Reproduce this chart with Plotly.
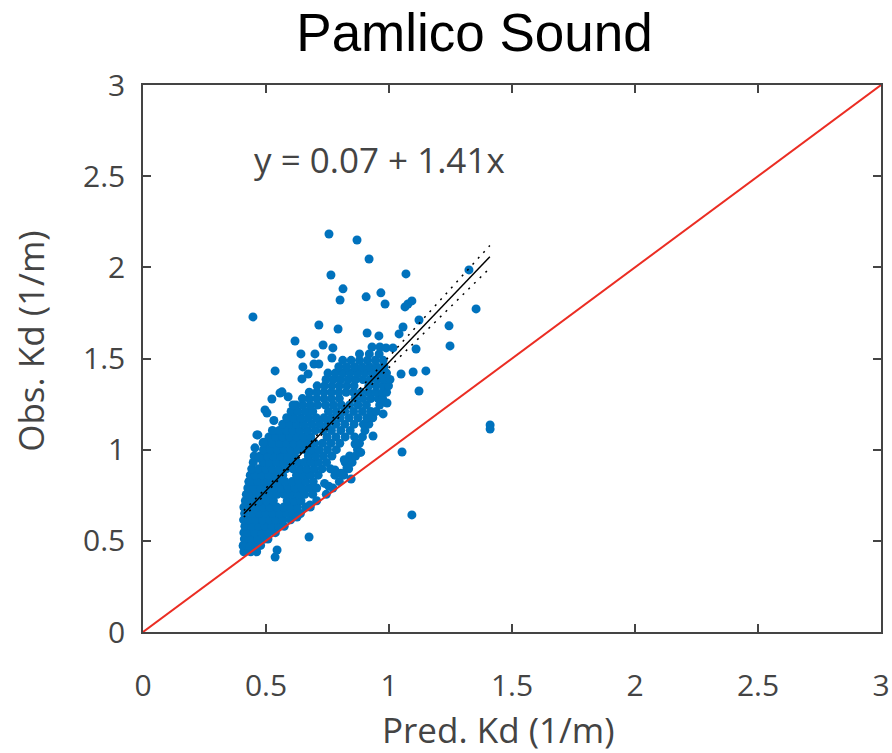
import plotly.graph_objects as go

# ---------------- data ----------------
title_text = "Pamlico Sound"
x_label = "Pred. Kd (1/m)"
y_label = "Obs. Kd (1/m)"
tick_vals = [0, 0.5, 1, 1.5, 2, 2.5, 3]
tick_text = ["0", "0.5", "1", "1.5", "2", "2.5", "3"]

# dense core of the cloud, read row by row (obs value per row, pred values in row)
core_obs = [0.44, 0.475, 0.51, 0.545, 0.58, 0.615, 0.65, 0.685, 0.72, 0.755, 0.79,
            0.825, 0.86, 0.895, 0.93, 0.965, 1.00, 1.035, 1.07, 1.105, 1.14, 1.175,
            1.21, 1.245, 1.28, 1.315, 1.35, 1.385, 1.42, 1.455, 1.49, 1.525]
core_pred = [
    [0.410, 0.438, 0.462],
    [0.408, 0.424, 0.452, 0.478],
    [0.412, 0.440, 0.466, 0.494, 0.508],
    [0.410, 0.426, 0.454, 0.482, 0.510, 0.538],
    [0.414, 0.442, 0.470, 0.497, 0.524, 0.552, 0.574],
    [0.409, 0.430, 0.458, 0.486, 0.514, 0.541, 0.569, 0.600],
    [0.413, 0.444, 0.472, 0.500, 0.527, 0.555, 0.583, 0.611, 0.640],
    [0.410, 0.432, 0.460, 0.488, 0.516, 0.544, 0.572, 0.600, 0.628, 0.662, 0.680],
    [0.416, 0.446, 0.474, 0.502, 0.530, 0.586, 0.614, 0.642, 0.706],
    [0.420, 0.434, 0.462, 0.490, 0.518, 0.546, 0.574, 0.602, 0.630, 0.658, 0.690, 0.745],
    [0.426, 0.450, 0.478, 0.506, 0.534, 0.562, 0.590, 0.618, 0.646, 0.676, 0.706, 0.772],
    [0.430, 0.440, 0.466, 0.494, 0.522, 0.550, 0.578, 0.606, 0.634, 0.662, 0.692, 0.798],
    [0.436, 0.456, 0.484, 0.512, 0.540, 0.568, 0.624, 0.652, 0.680, 0.712, 0.780, 0.816],
    [0.442, 0.470, 0.498, 0.526, 0.554, 0.582, 0.610, 0.638, 0.666, 0.696, 0.728, 0.762, 0.836],
    [0.448, 0.488, 0.516, 0.544, 0.572, 0.600, 0.628, 0.656, 0.684, 0.714, 0.746, 0.822, 0.850],
    [0.452, 0.476, 0.504, 0.532, 0.560, 0.588, 0.616, 0.672, 0.702, 0.734, 0.768, 0.840, 0.864],
    [0.490, 0.518, 0.546, 0.574, 0.602, 0.630, 0.658, 0.686, 0.716, 0.750, 0.786, 0.872],
    [0.500, 0.528, 0.556, 0.584, 0.612, 0.640, 0.668, 0.698, 0.730, 0.764, 0.800, 0.880],
    [0.512, 0.540, 0.568, 0.596, 0.624, 0.652, 0.682, 0.748, 0.784, 0.822, 0.860, 0.892],
    [0.526, 0.554, 0.582, 0.610, 0.638, 0.668, 0.700, 0.732, 0.766, 0.804, 0.842, 0.902],
    [0.568, 0.596, 0.624, 0.654, 0.686, 0.718, 0.750, 0.784, 0.820, 0.858, 0.896, 0.918],
    [0.584, 0.612, 0.642, 0.672, 0.704, 0.736, 0.768, 0.802, 0.838, 0.874, 0.910, 0.934],
    [0.602, 0.630, 0.660, 0.690, 0.754, 0.786, 0.820, 0.856, 0.892, 0.926, 0.948],
    [0.622, 0.650, 0.680, 0.710, 0.742, 0.774, 0.806, 0.840, 0.874, 0.908, 0.962],
    [0.648, 0.676, 0.706, 0.736, 0.766, 0.798, 0.862, 0.894, 0.926, 0.956, 0.974],
    [0.676, 0.706, 0.736, 0.766, 0.796, 0.826, 0.856, 0.886, 0.916, 0.946, 0.974, 0.990],
    [0.708, 0.738, 0.768, 0.798, 0.828, 0.858, 0.918, 0.948, 0.976, 0.998],
    [0.744, 0.774, 0.804, 0.834, 0.864, 0.894, 0.924, 0.954, 0.982, 1.004],
    [0.752, 0.782, 0.812, 0.842, 0.872, 0.902, 0.932, 0.962, 0.990],
    [0.796, 0.828, 0.860, 0.890, 0.920, 0.950, 0.980],
    [0.812, 0.846, 0.880, 0.912, 0.944, 0.976],
    [0.880, 0.920, 0.960],
]

# scattered points outside the core
sparse_pred = [0.756, 0.870, 0.919, 0.764, 1.069, 0.813, 0.801, 0.907, 0.967, 0.984,
               0.447, 1.065, 1.077, 1.093, 1.325, 1.354, 1.122, 1.244, 0.715, 0.793,
               0.911, 0.959, 1.057, 1.041, 1.248, 0.618, 0.732, 0.772, 0.642, 0.699,
               0.768, 0.931, 0.963, 0.988, 1.016, 1.110, 1.150, 1.098, 1.049, 1.122,
               0.992, 0.976, 0.537, 0.565, 0.524, 0.504, 0.610, 0.650, 0.671, 0.695,
               0.715, 0.935, 1.053, 1.093, 1.411, 1.411, 0.862, 0.829, 0.846, 0.780,
               0.679, 0.675, 0.626, 0.545, 0.537, 0.407, 0.435, 0.467, 0.490,
               0.496, 0.557, 0.646, 0.463, 0.488, 0.455, 0.472, 0.532, 0.590, 0.805,
               0.755, 0.738, 0.818, 0.885]
sparse_obs = [2.183, 2.150, 2.046, 1.958, 1.964, 1.882, 1.821, 1.838, 1.860, 1.799,
              1.728, 1.783, 1.799, 1.816, 1.986, 1.772, 1.711, 1.679, 1.684, 1.662,
              1.640, 1.624, 1.673, 1.635, 1.569, 1.596, 1.574, 1.558, 1.525, 1.525,
              1.503, 1.563, 1.563, 1.558, 1.558, 1.552, 1.432, 1.426, 1.415, 1.322,
              1.256, 1.196, 1.432, 1.317, 1.278, 1.201, 1.245, 1.454, 1.415, 1.470,
              1.470, 1.075, 0.987, 0.642, 1.135, 1.113, 1.031, 0.900, 0.839, 0.889,
              0.697, 0.521, 0.631, 0.450, 0.411, 0.472, 0.466, 1.081, 1.040,
              1.218, 1.311, 1.388, 1.081, 1.037, 1.010, 0.955, 1.160, 1.290, 0.870,
              0.800, 0.815, 0.945, 0.985]

# regression y = a + b x and its confidence band half-widths
fit_a = 0.07
fit_b = 1.41
fit_x = [0.41, 0.65, 0.90, 1.15, 1.41]
ci_half = [0.018, 0.008, 0.022, 0.042, 0.062]
one_to_one = [0, 3]

# ---------------- build ----------------
pred = []
obs = []
for yv, row in zip(core_obs, core_pred):
    for xv in row:
        pred.append(xv)
        obs.append(yv)
pred += sparse_pred
obs += sparse_obs

fit_y = [fit_a + fit_b * x for x in fit_x]
ci_up = [y + h for y, h in zip(fit_y, ci_half)]
ci_lo = [y - h for y, h in zip(fit_y, ci_half)]

GRAY = "#444444"
FONT = "Open Sans"

fig = go.Figure()
fig.add_trace(go.Scatter(x=pred, y=obs, mode="markers",
                         marker=dict(color="#0072BD", size=9, line=dict(width=0)),
                         showlegend=False))
fig.add_trace(go.Scatter(x=one_to_one, y=one_to_one, mode="lines",
                         line=dict(color="rgb(235,45,35)", width=2), showlegend=False))
fig.add_trace(go.Scatter(x=fit_x, y=fit_y, mode="lines",
                         line=dict(color="black", width=1.5), showlegend=False))
for band in (ci_up, ci_lo):
    fig.add_trace(go.Scatter(x=fit_x, y=band, mode="lines",
                             line=dict(color="black", width=1.5, dash="2px,6px"),
                             showlegend=False))

axis_common = dict(range=[0, 3], tickvals=tick_vals, ticktext=tick_text,
                   ticks="inside", ticklen=8, tickwidth=1.5, tickcolor=GRAY,
                   showline=True, linecolor=GRAY, linewidth=1.5, mirror="allticks",
                   showgrid=False, zeroline=False, automargin=False,
                   tickfont=dict(family=FONT, size=30, color=GRAY))
fig.update_xaxes(**axis_common, ticklabelstandoff=26)
fig.update_yaxes(**axis_common, ticklabelstandoff=10)

fig.update_layout(
    width=892, height=753,
    margin=dict(l=143, r=11, t=85, b=121, autoexpand=False),
    paper_bgcolor="white", plot_bgcolor="white",
    title=dict(text=title_text, x=0.532, xanchor="center", y=0.957, yanchor="middle",
               xref="container", yref="container",
               font=dict(family="Liberation Sans, Arial", size=53, color="black")),
    annotations=[
        dict(text="y = 0.07 + 1.41x", x=0.445, y=2.59, xref="x", yref="y",
             xanchor="left", yanchor="middle", showarrow=False,
             font=dict(family=FONT, size=35, color=GRAY)),
        dict(text=x_label, x=0.482, y=-0.178, xref="paper", yref="paper",
             xanchor="center", yanchor="middle", showarrow=False,
             font=dict(family=FONT, size=35, color=GRAY)),
        dict(text=y_label, x=-0.152, y=0.532, xref="paper", yref="paper",
             xanchor="center", yanchor="middle", showarrow=False, textangle=-90,
             font=dict(family=FONT, size=35, color=GRAY)),
    ],
)

fig.write_html("out.html")
